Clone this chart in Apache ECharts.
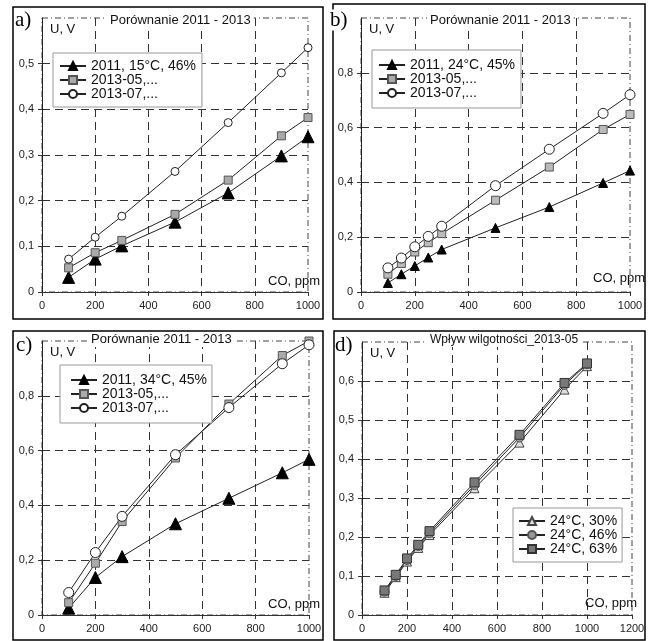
<!DOCTYPE html>
<html>
<head>
<meta charset="utf-8">
<script src="https://cdn.jsdelivr.net/npm/echarts@6/dist/echarts.min.js"></script>
<style>
  html, body { margin: 0; padding: 0; background: #fff; }
  #chart { width: 649px; height: 641px; }
</style>
</head>
<body>
<div id="chart"></div>
<script>
// x values (CO, ppm)
const xAC = [100, 200, 300, 500, 700, 900, 1000];
const xBD = [100, 150, 200, 250, 300, 500, 700, 900, 1000];

// a) 15°C
const a2011 = [0.032, 0.072, 0.101, 0.153, 0.217, 0.298, 0.34];
const a1305 = [0.053, 0.086, 0.113, 0.17, 0.245, 0.342, 0.382];
const a1307 = [0.072, 0.12, 0.166, 0.264, 0.371, 0.48, 0.535];

// b) 24°C
const b2011 = [0.033, 0.065, 0.095, 0.126, 0.155, 0.234, 0.31, 0.398, 0.443];
const b1305 = [0.065, 0.104, 0.146, 0.18, 0.213, 0.335, 0.456, 0.593, 0.648];
const b1307 = [0.088, 0.124, 0.165, 0.203, 0.24, 0.388, 0.521, 0.652, 0.72];

// c) 34°C
const c2011 = [0.025, 0.137, 0.213, 0.333, 0.426, 0.519, 0.568];
const c1305 = [0.045, 0.189, 0.341, 0.573, 0.77, 0.947, 1.0];
const c1307 = [0.082, 0.228, 0.36, 0.585, 0.757, 0.917, 0.986];

// d) wilgotnosc
const d30 = [0.057, 0.097, 0.137, 0.172, 0.205, 0.325, 0.442, 0.578, 0.638];
const d46 = [0.060, 0.100, 0.141, 0.177, 0.210, 0.333, 0.455, 0.590, 0.643];
const d63 = [0.063, 0.103, 0.145, 0.180, 0.215, 0.340, 0.462, 0.595, 0.645];

const panelLabels = ['a)', 'b)', 'c)', 'd)'];
const titles = ['Porównanie 2011 - 2013', 'Porównanie 2011 - 2013', 'Porównanie 2011 - 2013', 'Wpływ wilgotności_2013-05'];
const legA = ['2011, 15°C, 46%', '2013-05,...', '2013-07,...'];
const legB = ['2011, 24°C, 45%', '2013-05,...', '2013-07,...'];
const legC = ['2011, 34°C, 45%', '2013-05,...', '2013-07,...'];
const legD = ['24°C, 30%', '24°C, 46%', '24°C, 63%'];

const FONT = 'Liberation Sans, Arial, sans-serif';
const pts = (xs, ys) => xs.map((x, i) => [x, ys[i]]);
const comma = v => String(+v.toFixed(2)).replace('.', ',');

const grids = [
  { left: 42, top: 18, width: 266, height: 274 },
  { left: 361, top: 18, width: 269, height: 274 },
  { left: 42, top: 341, width: 267, height: 274 },
  { left: 362, top: 342, width: 270, height: 273 }
].map(g => Object.assign(g, {
  show: true, borderColor: '#444', borderWidth: 1, borderType: [6, 3, 1, 3]
}));

function xAx(i, max, gap, pad) {
  return {
    type: 'value', gridIndex: i, min: 0, max: max, interval: 200,
    name: 'CO, ppm', nameLocation: 'end', nameGap: gap,
    nameTextStyle: { fontFamily: FONT, fontSize: 13, color: '#111', align: 'right', verticalAlign: 'bottom', padding: [0, 0, pad, 0] },
    axisLine: { show: true, lineStyle: { color: '#333', width: 1 } },
    axisTick: { show: true, length: 4, lineStyle: { color: '#333' } },
    axisLabel: { fontFamily: FONT, fontSize: 11, color: '#222', margin: 8, formatter: v => String(v) },
    splitLine: { show: true, showMinLine: false, showMaxLine: false, lineStyle: { color: '#333', type: [8, 5], width: 1 } }
  };
}
function yAx(i, max, interval) {
  return {
    type: 'value', gridIndex: i, min: 0, max: max, interval: interval,
    name: 'U, V', nameLocation: 'end', nameGap: -5,
    nameTextStyle: { fontFamily: FONT, fontSize: 13, color: '#111', align: 'left', verticalAlign: 'top', padding: [0, 0, 0, 8] },
    axisLine: { show: true, lineStyle: { color: '#222', width: 1 } },
    axisTick: { show: true, length: 4, lineStyle: { color: '#333' } },
    axisLabel: { fontFamily: FONT, fontSize: 11, color: '#222', margin: 8, showMaxLabel: false, formatter: comma },
    splitLine: { show: true, showMinLine: false, showMaxLine: false, lineStyle: { color: '#333', type: [8, 5], width: 1 } }
  };
}

function line(name, i, data, symbol, size, fill, border) {
  return {
    name: name, type: 'line', xAxisIndex: i, yAxisIndex: i, data: data,
    symbol: symbol, symbolSize: size, showAllSymbol: true, clip: false,
    lineStyle: { color: '#222', width: 1 },
    itemStyle: { color: fill, borderColor: border, borderWidth: 1, opacity: 1 }
  };
}

function legend(names, left, top, lh, pad) {
  return {
    data: names, orient: 'vertical', left: left, top: top,
    itemWidth: 26, itemHeight: 10, itemGap: 0,
    padding: pad, borderColor: '#999', borderWidth: 1, backgroundColor: '#fff',
    textStyle: { fontFamily: FONT, fontSize: 14, color: '#111', lineHeight: lh },
    selectedMode: false
  };
}

const titleBoxes = [[107, 13, 13], [427, 13, 13], [88, 332, 13], [427, 333, 12]];

const frames = [[13, 7, 310, 312], [333, 4, 312, 315], [13, 331, 310, 309], [334, 331, 311, 309]];
const labelPos = [[15, 20], [330, 20], [16, 345], [335, 345]];

const option = {
  animation: false,
  backgroundColor: '#fff',
  grid: grids,
  title: titles.map((t, i) => ({
    text: t, left: titleBoxes[i][0], top: titleBoxes[i][1],
    padding: [1, 3], backgroundColor: '#fff', z: 120,
    textStyle: { fontFamily: FONT, fontSize: titleBoxes[i][2], fontWeight: 'normal', color: '#111' }
  })),
  legend: [
    legend(legA, 53, 53, 14, [6, 6]),
    legend(legB, 372, 50, 12, [8, 6]),
    legend(legC, 60, 365, 13, [8, 5, 8, 10]),
    legend(legD, 513, 508, 14, [6, 5])
  ],
  xAxis: [xAx(0, 1000, 12, 4), xAx(1, 1000, 15, 7), xAx(2, 1000, 11, 4), xAx(3, 1200, 5, 5)],
  yAxis: [yAx(0, 0.6, 0.1), yAx(1, 1.0, 0.2), yAx(2, 1.0, 0.2), yAx(3, 0.7, 0.1)],
  series: [
    line(legA[0], 0, pts(xAC, a2011), 'triangle', 12, '#000', '#000'),
    line(legA[1], 0, pts(xAC, a1305), 'rect', 8, '#aaa', '#555'),
    line(legA[2], 0, pts(xAC, a1307), 'circle', 8, '#fff', '#222'),

    line(legB[0], 1, pts(xBD, b2011), 'triangle', 9, '#000', '#000'),
    line(legB[1], 1, pts(xBD, b1305), 'rect', 8, '#bbb', '#555'),
    line(legB[2], 1, pts(xBD, b1307), 'circle', 10, '#fff', '#222'),

    line(legC[0], 2, pts(xAC, c2011), 'triangle', 12, '#000', '#000'),
    line(legC[1], 2, pts(xAC, c1305), 'rect', 8, '#aaa', '#555'),
    line(legC[2], 2, pts(xAC, c1307), 'circle', 10, '#fff', '#222'),

    line(legD[0], 3, pts(xBD, d30), 'triangle', 9, '#e0e0e0', '#444'),
    line(legD[1], 3, pts(xBD, d46), 'circle', 9, '#9a9a9a', '#555'),
    line(legD[2], 3, pts(xBD, d63), 'rect', 9, '#787878', '#333')
  ],
  graphic: frames.map(f => ({
    type: 'rect', shape: { x: f[0], y: f[1], width: f[2], height: f[3] },
    style: { fill: 'none', stroke: '#000', lineWidth: 1.5 }, z: 100
  })).concat(panelLabels.map((t, i) => ({
    type: 'text', x: labelPos[i][0], y: labelPos[i][1], z: 101,
    style: { text: t, fontFamily: 'Liberation Serif, Times New Roman, serif', fontSize: 21, fill: '#000', verticalAlign: 'middle', backgroundColor: '#fff' }
  })))
};

const chart = echarts.init(document.getElementById('chart'));
chart.setOption(option);
</script>
</body>
</html>
